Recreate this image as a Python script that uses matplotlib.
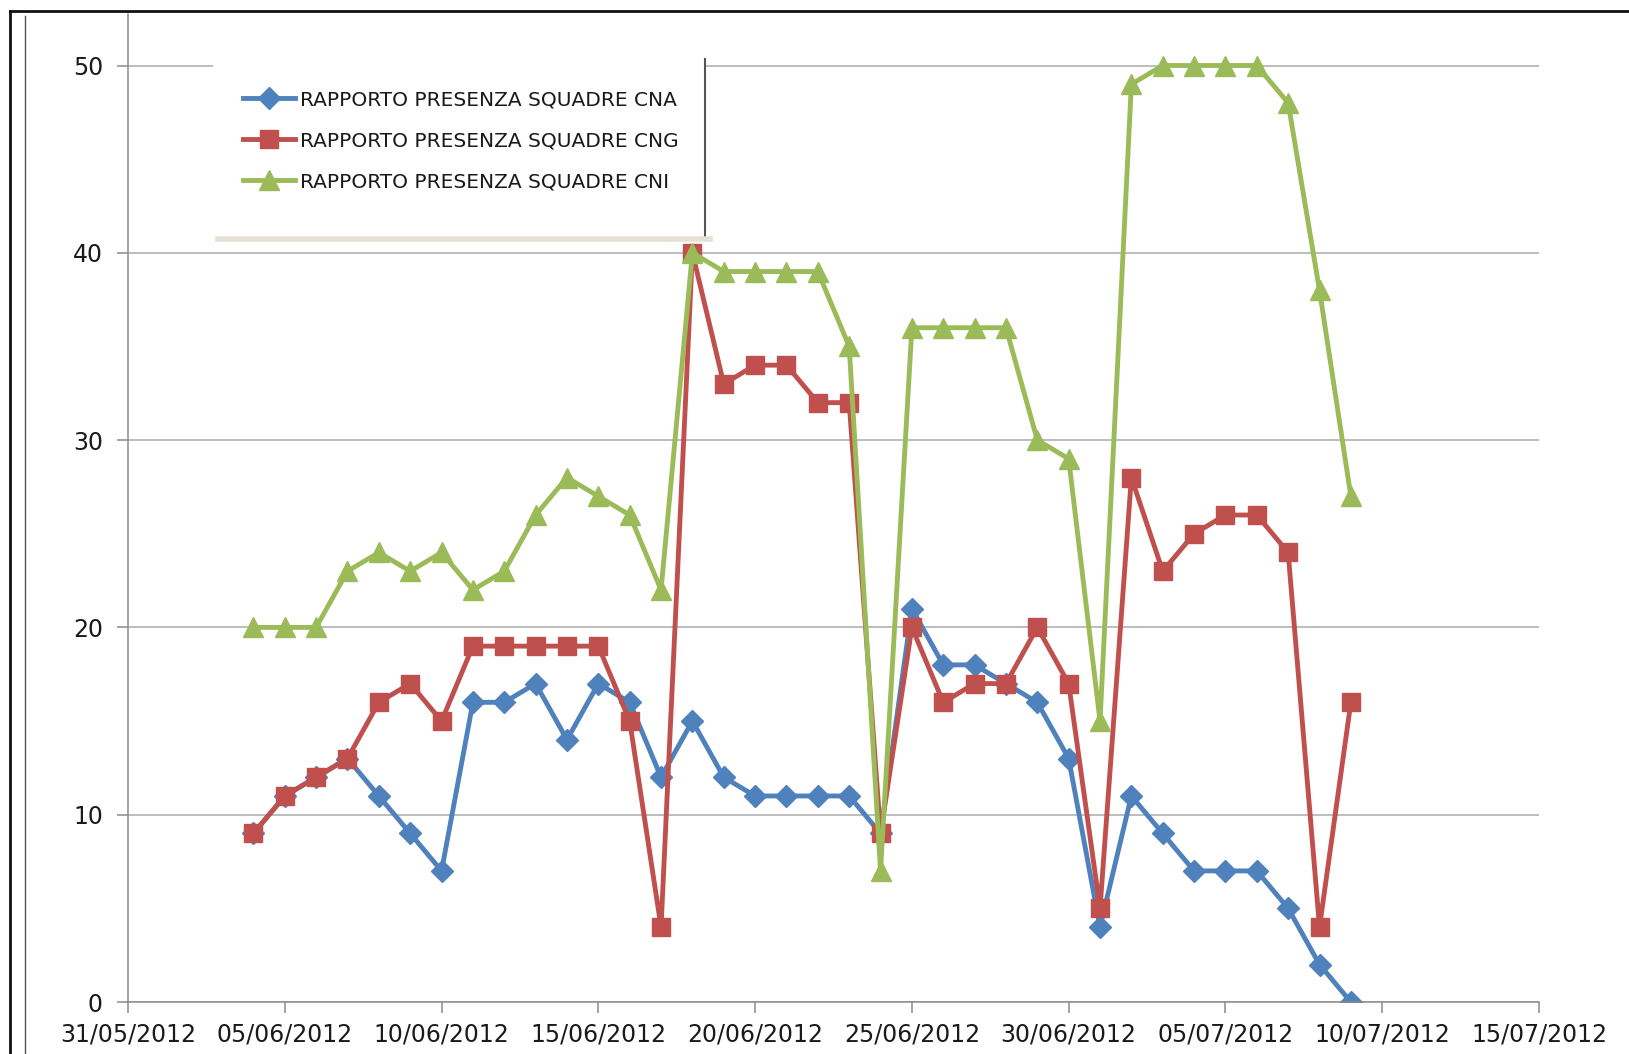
import datetime as dt

import matplotlib

matplotlib.use("Agg")
import matplotlib.dates as mdates
import matplotlib.pyplot as plt
from matplotlib.lines import Line2D
from matplotlib.patches import Rectangle

# ---- data (one value per day, 04/06/2012 .. 09/07/2012) ----------------------
start = dt.date(2012, 6, 4)
days = [start + dt.timedelta(days=i) for i in range(36)]

cna = [9, 11, 12, 13, 11, 9, 7, 16, 16, 17, 14, 17, 16, 12, 15, 12, 11, 11,
       11, 11, 9, 21, 18, 18, 17, 16, 13, 4, 11, 9, 7, 7, 7, 5, 2, 0]
cng = [9, 11, 12, 13, 16, 17, 15, 19, 19, 19, 19, 19, 15, 4, 40, 33, 34, 34,
       32, 32, 9, 20, 16, 17, 17, 20, 17, 5, 28, 23, 25, 26, 26, 24, 4, 16]
cni = [20, 20, 20, 23, 24, 23, 24, 22, 23, 26, 28, 27, 26, 22, 40, 39, 39, 39,
       39, 35, 7, 36, 36, 36, 36, 30, 29, 15, 49, 50, 50, 50, 50, 48, 38, 27]

labels = ["RAPPORTO PRESENZA SQUADRE CNA",
          "RAPPORTO PRESENZA SQUADRE CNG",
          "RAPPORTO PRESENZA SQUADRE CNI"]
colors = ["#4F81BD", "#C0504D", "#9BBB59"]
markers = ["D", "s", "^"]
msizes = [11, 13, 14]

W, H = 1629, 1054
fig = plt.figure(figsize=(W / 100, H / 100), dpi=100)
ax = fig.add_axes([128 / W, 1 - 1002 / H, (1539 - 128) / W, (1002 - 14) / H])

for ys, lab, c, m, ms in zip([cna, cng, cni], labels, colors, markers, msizes):
    ax.plot(days, ys, color=c, lw=3.5, marker=m, ms=ms, mec=c, label=lab,
            solid_joinstyle="miter", zorder=2)

ax.set_xlim(dt.date(2012, 5, 31), dt.date(2012, 7, 15))
ax.set_ylim(0, 50 * 988 / 936.5)
ax.set_yticks([0, 10, 20, 30, 40, 50])
ticks = [dt.date(2012, 5, 31) + dt.timedelta(days=5 * i) for i in range(10)]
ax.set_xticks(ticks)
ax.xaxis.set_major_formatter(mdates.DateFormatter("%d/%m/%Y"))

ax.grid(axis="y", color="#bdbdbd", lw=1.4)
ax.set_axisbelow(True)
for s in ["top", "right"]:
    ax.spines[s].set_visible(False)
for s in ["left", "bottom"]:
    ax.spines[s].set_color("#8a8a8a")
    ax.spines[s].set_linewidth(1.1)
ax.tick_params(axis="both", colors="#8a8a8a", labelcolor="#1a1a1a",
               labelsize=17, length=8, width=1.1)
ax.tick_params(axis="y", pad=10)
ax.tick_params(axis="x", pad=7)

# legend box with its shadow edges (above the gridline, below the legend text)
tf = fig.transFigure
ax.add_patch(Rectangle((213 / W, 1 - 241 / H), (706 - 213) / W, (241 - 57) / H,
                       transform=tf, facecolor="white", edgecolor="none",
                       zorder=3, clip_on=False))
ax.add_line(Line2D([705 / W, 705 / W], [1 - 59 / H, 1 - 237 / H], transform=tf,
                   color="#555555", lw=1.5, zorder=4, clip_on=False))
ax.add_line(Line2D([218 / W, 710 / W], [1 - 239 / H, 1 - 239 / H], transform=tf,
                   color="#e6e1d6", lw=4, zorder=4, clip_on=False))
leg = ax.legend(loc="upper left", bbox_to_anchor=(233 / W, 1 - 80 / H),
                bbox_transform=tf, frameon=False, fontsize=14.5,
                handlelength=2.6, handletextpad=0.25, labelspacing=1.1,
                borderpad=0)
leg.set_zorder(5)
for t in leg.get_texts():
    t.set_color("#1a1a1a")

# outer frame of the screenshot
fig.add_artist(Line2D([10 / W, 1.0], [1 - 11 / H, 1 - 11 / H], color="#111111", lw=2))
fig.add_artist(Line2D([10 / W, 10 / W], [0, 1 - 11 / H], color="#111111", lw=2))
fig.add_artist(Line2D([25 / W, 25 / W], [0, 1 - 16 / H], color="#555555", lw=1))

fig.savefig("out.png", dpi=100)
